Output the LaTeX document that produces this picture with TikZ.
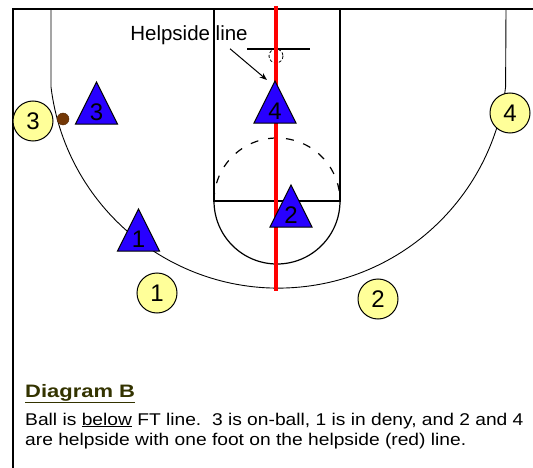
\documentclass[tikz,border=0pt]{standalone}
\usepackage{xcolor}
\usepackage{fontspec}
\setmainfont{Liberation Sans}
\newfontfamily\capfont[FakeStretch=1.13]{Liberation Sans}
\newfontfamily\titlefont[FakeStretch=1.22]{Liberation Sans}
\usepackage{tikz}
\usetikzlibrary{
    positioning,
    arrows.meta,
    shapes.geometric,
    calc
}
\definecolor{defblue}{RGB}{40,0,255}
\definecolor{offyellow}{RGB}{255,255,153}
\definecolor{ballbrown}{RGB}{115,55,5}
\definecolor{titleolive}{RGB}{51,51,0}
\tikzset{
    courtline/.style={
        draw=black, line width=1.2pt
    },
    helpline/.style={
        draw=red, line width=4pt
    },
    defender/.style={
        shape=isosceles triangle,
        shape border rotate=90,
        isosceles triangle stretches,
        minimum width=42pt, minimum height=42pt,
        inner sep=0pt,
        draw=black, line width=1pt, fill=defblue,
        font=\fontsize{24}{24}\selectfont
    },
    offense/.style={
        circle, draw=black, line width=1pt, fill=offyellow,
        minimum size=40pt, inner sep=0pt,
        font=\fontsize{24}{24}\selectfont
    },
    ballnode/.style={
        circle, draw=ballbrown!70!black, fill=ballbrown,
        minimum size=12pt, inner sep=0pt
    },
    arrow/.style={
        -Stealth, line width=1pt, draw=black
    },
    captiontext/.style={
        anchor=base west, inner sep=0pt,
        font=\capfont\fontsize{17}{17}\selectfont
    }
}

\begin{document}
\begin{tikzpicture}[x=1pt, y=-1pt]
        \useasboundingbox (0,0) rectangle (533,468);

        % Court outline
        \draw[courtline] (13,468) -- (13,9) -- (533,9);

        % Lane and free throw line
        \draw[courtline] (214,9) -- (214,201) -- (340,201) -- (340,9);
        \draw[courtline] (214,201) arc[start angle=180, end angle=0, radius=63];
        \draw[courtline, dash pattern=on 8pt off 10pt] (214,201) arc[start angle=180, end angle=360, radius=63];

        % Three point line
        \draw[line width=0.9pt] (51,9) -- (51,87) arc[start angle=173, end angle=7, radius=229] -- (506,9);

        % Backboard and rim
        \draw[courtline] (247,49) -- (310,49);
        \draw[line width=0.8pt, dash pattern=on 3pt off 2pt] (276,56) circle[radius=7];

        % Helpside (red) line
        \draw[helpline] (276,6) -- (276,291);

        % Helpside label
        \node[font=\fontsize{20.5}{20.5}\selectfont, inner sep=0pt] (help) at (189,35) {Helpside line};
        \coordinate (helptip) at (267,80);
        \draw[arrow] ([xshift=41pt,yshift=-4pt]help.south) -- (helptip);

        % Defenders
        \node[defender] (d3) at (96.5,112) {3};
        \node[defender] (d4) at (275,111) {4};
        \node[defender] (d2) at (291,215) {2};
        \node[defender] (d1) at (138.5,239) {1};

        % Offense
        \node[offense] (o3) at (33,121) {3};
        \node[offense] (o4) at (510,113) {4};
        \node[offense] (o1) at (157,293) {1};
        \node[offense] (o2) at (378,299) {2};

        % Ball
        \node[ballnode] (ball) at (63,119) {};

        % Caption
        \node[captiontext, font=\titlefont\fontsize{18}{18}\selectfont\bfseries, text=titleolive] (title) at (25,397) {\underline{Diagram B}};
        \node[captiontext] (line1) at (25,425) {Ball is \underline{below} FT line.\ \ 3 is on-ball, 1 is in deny, and 2 and 4};
        \node[captiontext] (line2) at (25,445) {are helpside with one foot on the helpside (red) line.};

    \end{tikzpicture}
\end{document}
